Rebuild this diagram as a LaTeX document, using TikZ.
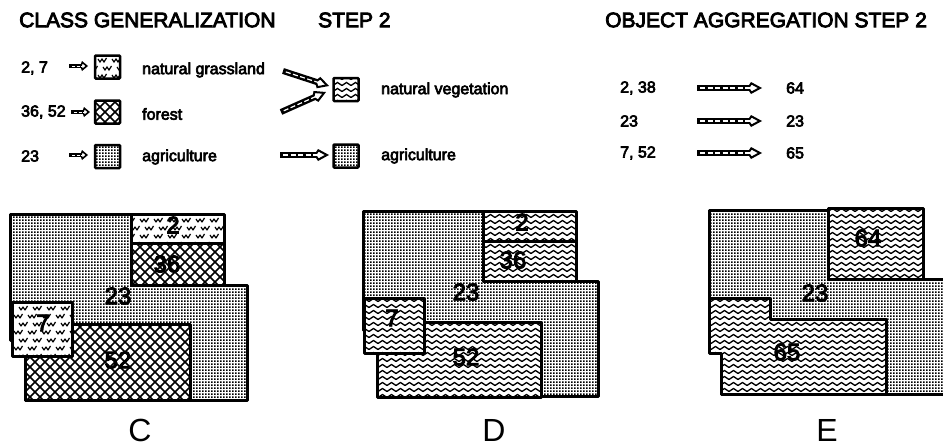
\documentclass[tikz,border=0pt]{standalone}
\usepackage{fontspec}
\setmainfont{Liberation Sans}
\newfontfamily\heavy[FakeBold=4]{Liberation Sans}
\usetikzlibrary{patterns,arrows.meta}
\pgfdeclarepatternformonly{wavy}{\pgfpoint{-1pt}{-1pt}}{\pgfpoint{10pt}{7pt}}{\pgfpoint{9pt}{6pt}}{
  \pgfsetlinewidth{1.3pt}
  \pgfpathmoveto{\pgfpoint{0pt}{1.5pt}}
  \pgfpathcurveto{\pgfpoint{1.5pt}{1.5pt}}{\pgfpoint{3pt}{4.5pt}}{\pgfpoint{4.5pt}{4.5pt}}
  \pgfpathcurveto{\pgfpoint{6pt}{4.5pt}}{\pgfpoint{7.5pt}{1.5pt}}{\pgfpoint{9pt}{1.5pt}}
  \pgfusepath{stroke}}
\pgfdeclarepatternformonly{hatch}{\pgfpoint{-1pt}{-1pt}}{\pgfpoint{11pt}{11pt}}{\pgfpoint{10pt}{10pt}}{
  \pgfsetlinewidth{1.5pt}
  \pgfpathmoveto{\pgfpoint{0pt}{0pt}}\pgfpathlineto{\pgfpoint{10pt}{10pt}}
  \pgfpathmoveto{\pgfpoint{0pt}{10pt}}\pgfpathlineto{\pgfpoint{10pt}{0pt}}
  \pgfusepath{stroke}}
\pgfdeclarepatternformonly{finedots}{\pgfpoint{0pt}{0pt}}{\pgfpoint{2.6pt}{2.6pt}}{\pgfpoint{2.6pt}{2.6pt}}{
  \pgfpathrectangle{\pgfpoint{0pt}{0pt}}{\pgfpoint{1.85pt}{1.85pt}}
  \pgfusepath{fill}}
\pgfdeclarepatternformonly{grassy}{\pgfpoint{-1pt}{-1pt}}{\pgfpoint{15pt}{17pt}}{\pgfpoint{14pt}{16pt}}{
  \pgfsetlinewidth{1.2pt}
  \pgfpathmoveto{\pgfpoint{0pt}{4pt}}\pgfpathlineto{\pgfpoint{2pt}{1pt}}\pgfpathlineto{\pgfpoint{4pt}{4pt}}\pgfpathlineto{\pgfpoint{6pt}{1pt}}\pgfpathlineto{\pgfpoint{8.5pt}{5pt}}
  \pgfpathmoveto{\pgfpoint{5pt}{12pt}}\pgfpathlineto{\pgfpoint{7pt}{9pt}}\pgfpathlineto{\pgfpoint{9pt}{12pt}}\pgfpathlineto{\pgfpoint{11pt}{9pt}}\pgfpathlineto{\pgfpoint{13.5pt}{13pt}}
  \pgfusepath{stroke}}
\tikzset{
  x=1pt,y=-1pt,
  region/.style={draw=black,line width=3pt,line join=round,fill=white},
  agri/.style={region,postaction={pattern=finedots}},
  wave/.style={region,postaction={pattern=wavy}},
  cross/.style={region,postaction={pattern=hatch}},
  grass/.style={region,postaction={pattern=grassy}},
  swatch/.style={draw=black,line width=2.5pt,rounded corners=1pt,minimum width=25pt,minimum height=23pt,inner sep=0pt,anchor=center},
  swagri/.style={swatch,fill=white,postaction={pattern=finedots}},
  swwave/.style={swatch,fill=white,postaction={pattern=wavy}},
  swcross/.style={swatch,fill=white,postaction={pattern=hatch}},
  swgrass/.style={swatch,fill=white,postaction={pattern=grassy}},
  head/.style={font=\heavy\fontsize{21}{24}\selectfont,anchor=west,inner sep=0pt},
  legend/.style={font=\heavy\fontsize{16}{19}\selectfont,anchor=west,inner sep=0pt},
  mapnum/.style={font=\heavy\fontsize{24}{27}\selectfont,inner sep=0pt},
  panel/.style={font=\fontsize{32}{36}\selectfont,inner sep=0pt},
  smallarr/.style={draw=black,line width=4.5pt,-{Kite[length=8pt,width=10pt,inset=2pt,open,fill=white,line width=1.6pt]},
    postaction={draw=white,line width=1pt,dash pattern=on 3pt off 1.5pt,-,shorten >=6pt,shorten <=3pt}},
  hollow/.style={draw=black,line width=6pt,-{Kite[length=15pt,width=12pt,inset=4pt,open,fill=white,line width=2pt]},
    postaction={draw=white,line width=1.2pt,dash pattern=on 5pt off 2.5pt,-,shorten >=10pt,shorten <=3pt}}
}
\begin{document}
\begin{tikzpicture}
\useasboundingbox (0,0) rectangle (943,447);
% headings
\node[head] (h1) at (19,20) {CLASS GENERALIZATION};
\node[head] (h2) at (318,20) {STEP 2};
\node[head] (h3) at (605,20) {OBJECT AGGREGATION STEP 2};
% legend left
\node[legend] (n1) at (21,68) {2, 7};
\node[legend] (n2) at (21,112) {36, 52};
\node[legend] (n3) at (21,156) {23};
\node[swgrass] (s1) at (107.5,67) {};
\node[swcross] (s2) at (107.5,112) {};
\node[swagri] (s3) at (107.5,156.5) {};
\coordinate (a1) at (69,66);
\coordinate (a2) at (71,112);
\coordinate (a3) at (69,155);
\draw[smallarr] (a1) -- (88,66);
\draw[smallarr] (a2) -- (90,112);
\draw[smallarr] (a3) -- (88,155);
\node[legend] (t1) at (142,70) {natural grassland};
\node[legend] (t2) at (142,114) {forest};
\node[legend] (t3) at (142,157) {agriculture};
% middle
\node[swwave] (s4) at (346,89.5) {};
\node[swagri] (s5) at (346,156) {};
\node[legend] (t4) at (381,90) {natural vegetation};
\node[legend] (t5) at (381,156) {agriculture};
\coordinate (b1) at (283,71);
\coordinate (b2) at (281,112);
\coordinate (b3) at (280,155);
\coordinate (c1) at (329,86);
\coordinate (c2) at (326,92);
\coordinate (c3) at (329,155);
\draw[hollow] (b1) -- (c1);
\draw[hollow] (b2) -- (c2);
\draw[hollow] (b3) -- (c3);
% right
\node[legend] (r1) at (620,88) {2, 38};
\node[legend] (r2) at (620,121) {23};
\node[legend] (r3) at (620,153) {7, 52};
\node[legend] (q1) at (786,88) {64};
\node[legend] (q2) at (786,121) {23};
\node[legend] (q3) at (786,153) {65};
\coordinate (d1) at (697,88);
\coordinate (d2) at (697,121);
\coordinate (d3) at (697,153);
\coordinate (e1) at (762,88);
\coordinate (e2) at (762,121);
\coordinate (e3) at (762,153);
\draw[hollow] (d1) -- (e1);
\draw[hollow] (d2) -- (e2);
\draw[hollow] (d3) -- (e3);
% map C
\draw[agri] (10,214) -- (131,214) -- (131,285) -- (247,285) -- (247,400) -- (25,400) -- (25,340) -- (10,340) -- cycle;
\draw[grass] (131,214) rectangle (224,243);
\draw[cross] (131,243) rectangle (224,285);
\draw[cross] (25,324) rectangle (190,400);
\draw[grass] (12,302) rectangle (72,356);
\node[mapnum] (c23) at (118,296) {23};
\node[mapnum] (c2n) at (173,225) {2};
\node[mapnum] (c36) at (167,264) {36};
\node[mapnum] (c7) at (43,323) {7};
\node[mapnum] (c52) at (118,360) {52};
\node[panel] (lc) at (140,430) {C};
% map D
\draw[agri] (363,211) -- (483,211) -- (483,281) -- (598,281) -- (598,396) -- (377,396) -- (377,330) -- (363,330) -- cycle;
\draw[wave] (483,211) rectangle (576,241);
\draw[wave] (483,241) rectangle (576,281);
\draw[wave] (377,322) rectangle (541,397);
\draw[wave] (364,298) rectangle (424,353);
\node[mapnum] (d23) at (466,292) {23};
\node[mapnum] (d2n) at (522,222) {2};
\node[mapnum] (d36) at (513,260) {36};
\node[mapnum] (d7) at (392,318) {7};
\node[mapnum] (d52) at (466,357) {52};
\node[panel] (ld) at (494,430) {D};
% map E
\draw[agri] (709,210) -- (828,210) -- (828,279) -- (950,279) -- (950,394) -- (721,394) -- (721,330) -- (709,330) -- cycle;
\draw[wave] (828,208) rectangle (923,279);
\draw[wave] (709,298) -- (770,298) -- (770,319) -- (886,319) -- (886,394) -- (721,394) -- (721,353) -- (709,353) -- cycle;
\node[mapnum] (e23) at (815,293) {23};
\node[mapnum] (e64) at (868,238) {64};
\node[mapnum] (e65) at (787,352) {65};
\node[panel] (le) at (827,430) {E};
\end{tikzpicture}
\end{document}
